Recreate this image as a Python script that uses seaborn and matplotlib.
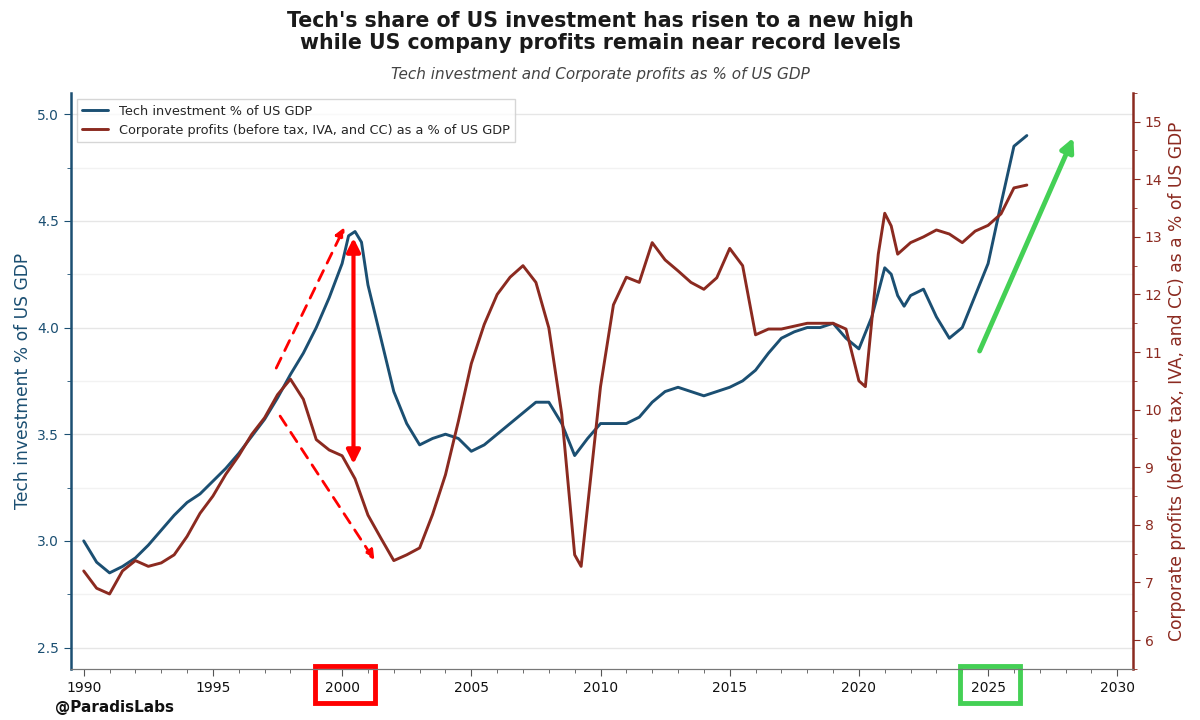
import matplotlib
matplotlib.use("Agg")
import matplotlib.pyplot as plt
import seaborn as sns
import pandas as pd
from matplotlib.patches import Rectangle
from matplotlib.ticker import MultipleLocator

# tech investment as % of US GDP (left axis)
tech_years = [1990, 1990.5, 1991, 1991.5, 1992, 1992.5, 1993, 1993.5, 1994, 1994.5,
              1995, 1995.5, 1996, 1996.5, 1997, 1997.5, 1998, 1998.5, 1999, 1999.5,
              2000, 2000.25, 2000.5, 2000.75, 2001, 2001.5, 2002, 2002.5, 2003, 2003.5,
              2004, 2004.5, 2005, 2005.5, 2006, 2006.5, 2007, 2007.5, 2008, 2008.5,
              2009, 2009.5, 2010, 2010.5, 2011, 2011.5, 2012, 2012.5, 2013, 2013.5,
              2014, 2014.5, 2015, 2015.5, 2016, 2016.5, 2017, 2017.5, 2018, 2018.5,
              2019, 2019.5, 2020, 2020.5, 2021, 2021.25, 2021.5, 2021.75, 2022, 2022.5,
              2023, 2023.5, 2024, 2024.5, 2025, 2025.5, 2026, 2026.5]
tech_share = [3.00, 2.90, 2.85, 2.88, 2.92, 2.98, 3.05, 3.12, 3.18, 3.22,
              3.28, 3.34, 3.41, 3.49, 3.57, 3.67, 3.78, 3.88, 4.00, 4.14,
              4.30, 4.43, 4.45, 4.40, 4.20, 3.95, 3.70, 3.55, 3.45, 3.48,
              3.50, 3.48, 3.42, 3.45, 3.50, 3.55, 3.60, 3.65, 3.65, 3.55,
              3.40, 3.48, 3.55, 3.55, 3.55, 3.58, 3.65, 3.70, 3.72, 3.70,
              3.68, 3.70, 3.72, 3.75, 3.80, 3.88, 3.95, 3.98, 4.00, 4.00,
              4.02, 3.95, 3.90, 4.05, 4.28, 4.25, 4.15, 4.10, 4.15, 4.18,
              4.05, 3.95, 4.00, 4.15, 4.30, 4.58, 4.85, 4.90]

# corporate profits as % of US GDP (right axis)
profit_years = [1990, 1990.5, 1991, 1991.5, 1992, 1992.5, 1993, 1993.5, 1994, 1994.5,
                1995, 1995.5, 1996, 1996.5, 1997, 1997.5, 1998, 1998.5, 1999, 1999.5,
                2000, 2000.5, 2001, 2001.5, 2002, 2002.5, 2003, 2003.5, 2004, 2004.5,
                2005, 2005.5, 2006, 2006.5, 2007, 2007.5, 2008, 2008.5, 2009, 2009.25,
                2010, 2010.5, 2011, 2011.5, 2012, 2012.5, 2013, 2013.5, 2014, 2014.5,
                2015, 2015.5, 2016, 2016.5, 2017, 2017.5, 2018, 2018.5, 2019, 2019.5,
                2020, 2020.25, 2020.75, 2021, 2021.25, 2021.5, 2022, 2022.5, 2023, 2023.5,
                2024, 2024.5, 2025, 2025.5, 2026, 2026.5]
profit_share = [7.20, 6.90, 6.80, 7.20, 7.38, 7.28, 7.34, 7.48, 7.80, 8.20,
                8.50, 8.88, 9.20, 9.57, 9.86, 10.26, 10.53, 10.18, 9.48, 9.30,
                9.20, 8.80, 8.17, 7.77, 7.38, 7.48, 7.60, 8.18, 8.87, 9.80,
                10.80, 11.48, 12.00, 12.30, 12.50, 12.21, 11.42, 9.92, 7.48, 7.28,
                10.40, 11.82, 12.30, 12.21, 12.90, 12.60, 12.41, 12.21, 12.09, 12.29,
                12.80, 12.50, 11.30, 11.40, 11.40, 11.45, 11.50, 11.50, 11.50, 11.40,
                10.50, 10.40, 12.70, 13.41, 13.19, 12.70, 12.90, 13.00, 13.12, 13.05,
                12.90, 13.10, 13.20, 13.40, 13.85, 13.90]

tech_label = "Tech investment % of US GDP"
profit_label = "Corporate profits (before tax, IVA, and CC) as a % of US GDP"

blue = "#1b4f72"
brown = "#8b2a20"

sns.set_style("white")
plt.rcParams['font.family'] = ['DejaVu Sans']

tech_df = pd.DataFrame({"year": tech_years, "value": tech_share})
profit_df = pd.DataFrame({"year": profit_years, "value": profit_share})

fig = plt.figure(figsize=(12, 7.2), dpi=100)
ax1 = fig.add_axes([0.059, 0.071, 0.885, 0.8])
ax2 = ax1.twinx()

sns.lineplot(data=tech_df, x="year", y="value", ax=ax1, color=blue, linewidth=2.1,
             label=tech_label, legend=False)
sns.lineplot(data=profit_df, x="year", y="value", ax=ax2, color=brown, linewidth=2.1,
             label=profit_label, legend=False)

ax1.set_xlim(1989.5, 2030.6)
ax1.set_ylim(2.4, 5.1)
ax2.set_ylim(5.5, 15.5)

ax1.xaxis.set_major_locator(MultipleLocator(5))
ax1.xaxis.set_minor_locator(MultipleLocator(1))
ax1.yaxis.set_major_locator(MultipleLocator(0.5))
ax1.yaxis.set_minor_locator(MultipleLocator(0.25))
ax2.yaxis.set_major_locator(MultipleLocator(1))
ax2.yaxis.set_minor_locator(MultipleLocator(0.5))

ax1.grid(axis="y", which="major", color="#e6e6e6", linewidth=1)
ax1.grid(axis="y", which="minor", color="#f2f2f2", linewidth=1)
ax1.set_axisbelow(True)

ax1.set_xlabel("")
ax1.set_ylabel(tech_label, color=blue, fontsize=12.3)
ax2.set_ylabel(profit_label, color=brown, fontsize=12.3)

ax1.tick_params(axis="y", which="both", colors=blue, labelsize=10, direction="out", left=True)
ax1.tick_params(axis="y", which="major", length=5)
ax1.tick_params(axis="y", which="minor", length=3)
ax1.tick_params(axis="x", which="both", colors="#555555", labelcolor="#111111",
                labelsize=10, bottom=True)
ax1.tick_params(axis="x", which="major", length=5)
ax1.tick_params(axis="x", which="minor", length=3)
ax2.tick_params(axis="y", which="both", colors=brown, labelsize=10, right=True)
ax2.tick_params(axis="y", which="major", length=5)
ax2.tick_params(axis="y", which="minor", length=3)

for ax in (ax1, ax2):
    ax.spines["top"].set_visible(False)
    ax.spines["bottom"].set_color("#777777")
ax1.spines["left"].set_color(blue)
ax1.spines["left"].set_linewidth(1.8)
ax1.spines["right"].set_visible(False)
ax2.spines["left"].set_visible(False)
ax2.spines["right"].set_color(brown)
ax2.spines["right"].set_linewidth(1.8)

h1, l1 = ax1.get_legend_handles_labels()
h2, l2 = ax2.get_legend_handles_labels()
leg = ax1.legend(h1 + h2, l1 + l2, loc="upper left", fontsize=9.3, frameon=True,
                 fancybox=False, edgecolor="#cccccc", borderaxespad=0.5)
leg.get_frame().set_linewidth(1)

# dot-com annotations
ax1.annotate("", xy=(2000.09, 4.47), xytext=(1997.45, 3.81),
             arrowprops=dict(arrowstyle="-|>", color="red", lw=2, ls=(0, (4, 3)),
                             mutation_scale=14, shrinkA=0, shrinkB=0))
ax1.annotate("", xy=(2001.25, 2.91), xytext=(1997.6, 3.585),
             arrowprops=dict(arrowstyle="-|>", color="red", lw=2, ls=(0, (4, 3)),
                             mutation_scale=14, shrinkA=0, shrinkB=0))
ax1.annotate("", xy=(2000.44, 4.42), xytext=(2000.44, 3.36),
             arrowprops=dict(arrowstyle="<|-|>", color="red", lw=3,
                             mutation_scale=20, shrinkA=0, shrinkB=0))
# recent rise
ax1.annotate("", xy=(2028.3, 4.89), xytext=(2024.67, 3.89),
             arrowprops=dict(arrowstyle="-|>", color="#44d055", lw=3.5,
                             mutation_scale=20, shrinkA=0, shrinkB=0))

# boxes round the 2000 and 2025 tick labels
xtrans = ax1.get_xaxis_transform()
ax1.add_patch(Rectangle((1998.97, -0.059), 2.32, 0.064, transform=xtrans, fill=False,
                        edgecolor="red", linewidth=3.5, clip_on=False))
ax1.add_patch(Rectangle((2023.9, -0.059), 2.32, 0.064, transform=xtrans, fill=False,
                        edgecolor="#44d055", linewidth=3.5, clip_on=False))

fig.text(0.5, 0.985, "Tech's share of US investment has risen to a new high\n"
         "while US company profits remain near record levels",
         ha="center", va="top", fontsize=14.8, fontweight="bold", color="#1a1a1a",
         linespacing=1.15)
fig.text(0.5, 0.896, "Tech investment and Corporate profits as % of US GDP",
         ha="center", va="center", fontsize=11, style="italic", color="#444444")
fig.text(0.046, 0.017, "@ParadisLabs", ha="left", va="center", fontsize=11,
         fontweight="bold", color="#111111")

fig.savefig("out.png", dpi=100)
